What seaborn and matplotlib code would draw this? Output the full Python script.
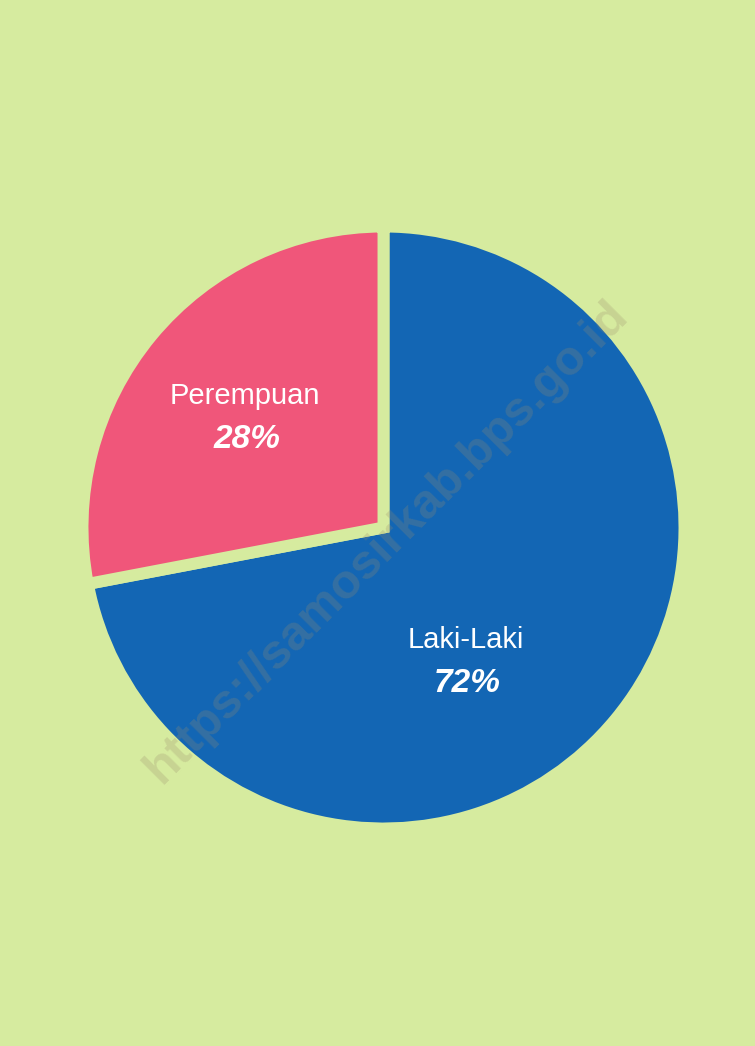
import numpy as np
import seaborn as sns
import matplotlib.pyplot as plt

# data
kategori = ['Laki-Laki', 'Perempuan']
persen = [72, 28]
warna = ['#1366b4', '#f0567a']
latar = '#d6eb9f'

sns.set_style('white')
plt.rcParams['font.family'] = ['Liberation Sans', 'DejaVu Sans']
paleta = sns.color_palette(warna)

fig = plt.figure(figsize=(7.55, 10.46), dpi=100)
fig.patch.set_facecolor(latar)
ax = fig.add_axes([0, 0, 1, 1])
ax.set_facecolor(latar)

# pie: start at top, clockwise, gap between slices drawn as a thick edge in background colour
wedges, _ = ax.pie(persen, colors=paleta, startangle=90, counterclock=False,
                   radius=1.0,
                   wedgeprops=dict(linewidth=8.6, edgecolor=latar))

# skala: 301 px na jednostkę, środek w (383.5, 527.5) px
r_px = 301.0
cx, cy = 383.5, 527.5
ax.set_xlim(-cx / r_px, (755 - cx) / r_px)
ax.set_ylim(-(1046 - cy) / r_px, cy / r_px)
ax.set_aspect('auto')
ax.axis('off')

# opisy
poz = {'Laki-Laki': (0.272, -0.374), 'Perempuan': (-0.460, 0.437)}
for nazwa, p in zip(kategori, persen):
    x, y = poz[nazwa]
    ax.text(x, y, nazwa, ha='center', va='center', color='white', fontsize=21)
    ax.text(x + 0.005, y - 0.143, f'{p}%', ha='center', va='center', color='white',
            fontsize=24, fontweight='bold', fontstyle='italic')

# znak wodny
ax.text(0.01, -0.05, 'https://samosirkab.bps.go.id', rotation=45, ha='center', va='center',
        fontsize=35, fontweight='bold', color='#9a8c6c', alpha=0.25)

fig.savefig('out.png', dpi=100, facecolor=latar)
